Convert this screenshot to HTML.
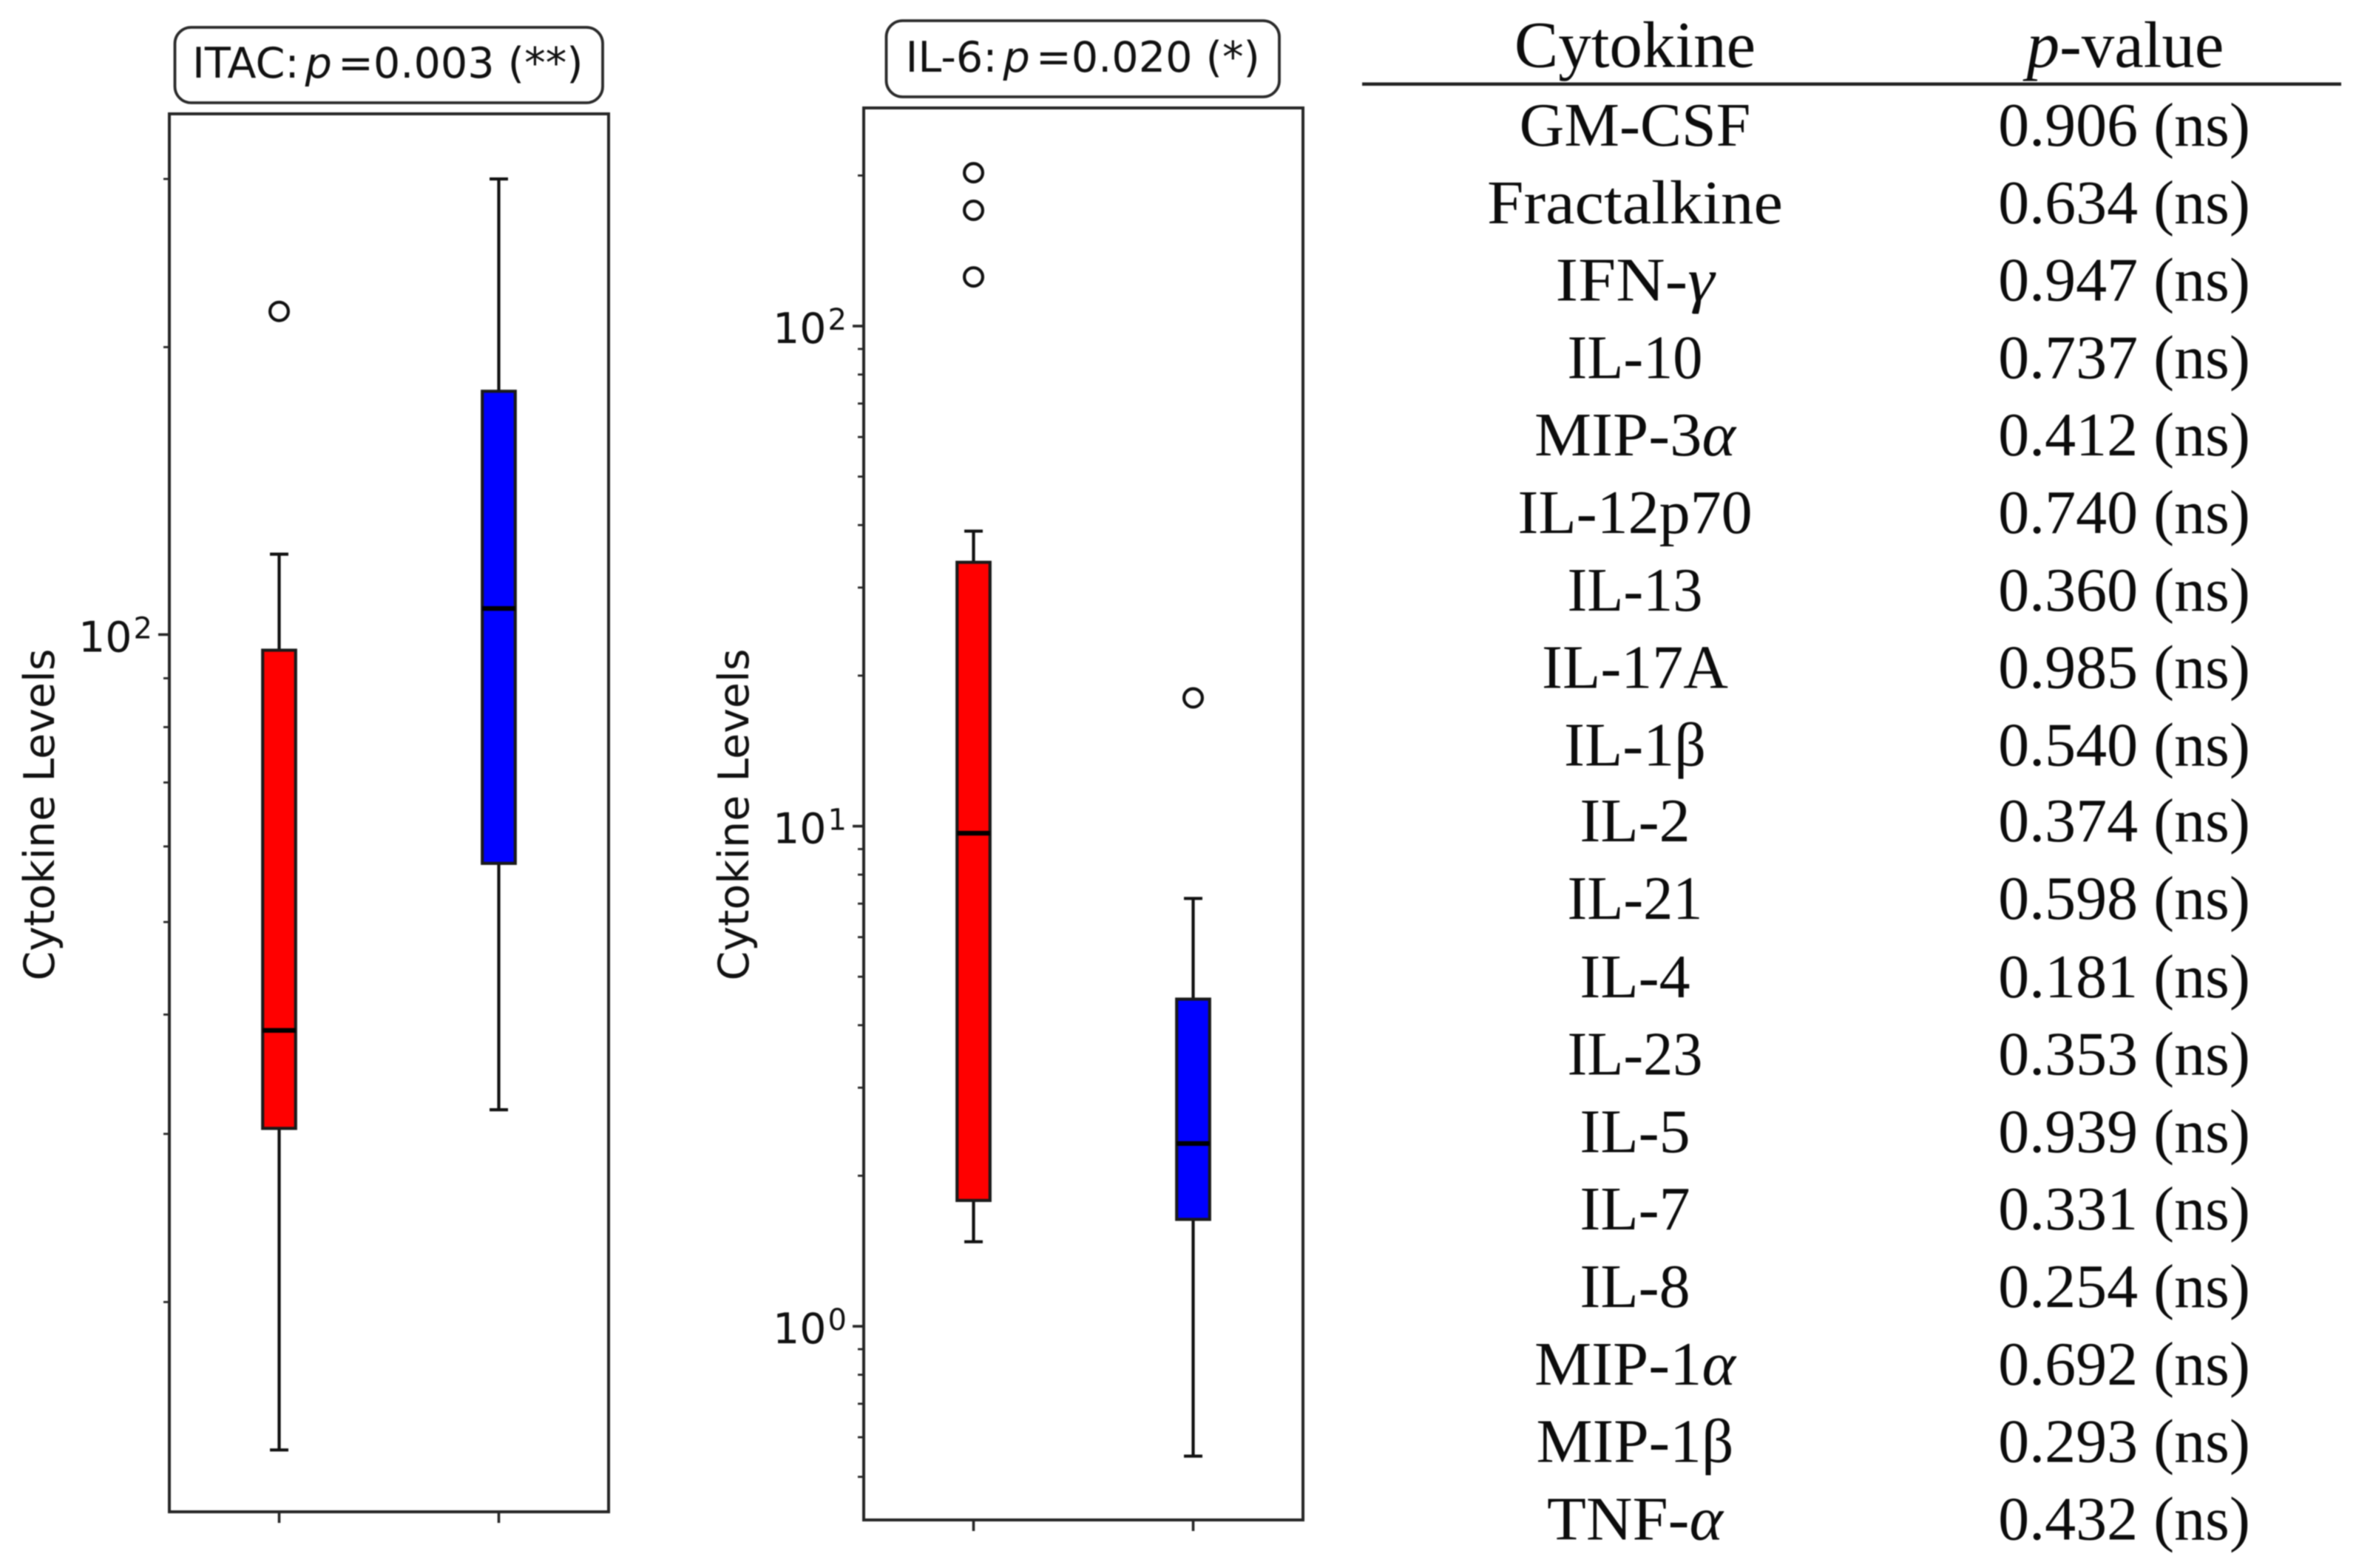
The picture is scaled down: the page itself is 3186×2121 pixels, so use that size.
<!DOCTYPE html>
<html lang="en">
<head>
<meta charset="utf-8">
<title>Cytokine levels and p-values</title>
<style>
html,body{margin:0;padding:0;background:#fff;}
svg{display:block;filter:blur(0.85px);}
.t-name,.t-val{font-family:"Liberation Serif",serif;font-size:84px;fill:#0c0c0c;text-anchor:middle;}
.t-head{font-family:"Liberation Serif",serif;font-size:89px;fill:#0c0c0c;text-anchor:middle;}
.i{font-style:italic;}
.sans{font-family:"DejaVu Sans",sans-serif;fill:#111;}
</style>
</head>
<body>
<svg id="figure" xmlns="http://www.w3.org/2000/svg" width="3186" height="2121" viewBox="0 0 3186 2121">
<rect x="0" y="0" width="3186" height="2121" fill="#fff"/>

<g id="chart-itac">
<rect x="236.5" y="37" width="578.5" height="102" rx="22" ry="22" fill="#fff" stroke="#2a2a2a" stroke-width="3.8"/>
<text class="sans" x="260" y="105" font-size="57.2">ITAC:<tspan dx="8" font-style="italic">p</tspan><tspan dx="8">=0.003 (**)</tspan></text>
<text class="sans" font-size="57" text-anchor="middle" transform="translate(73 1102) rotate(-90)">Cytokine Levels</text>
</g>

<g id="chart-il6">
<rect x="1198.5" y="28" width="531.5" height="103" rx="22" ry="22" fill="#fff" stroke="#2a2a2a" stroke-width="3.8"/>
<text class="sans" x="1224.5" y="97" font-size="57.2">IL-6:<tspan dx="8" font-style="italic">p</tspan><tspan dx="8">=0.020 (*)</tspan></text>
<text class="sans" font-size="57" text-anchor="middle" transform="translate(1012 1102) rotate(-90)">Cytokine Levels</text>
</g>

<g>
<text class="t-head" x="2211" y="90.5">Cytokine</text>
<text class="t-head" x="2874" y="90.5"><tspan class="i">p</tspan>-value</text>
<rect x="1842" y="111.5" width="1324" height="4.5" fill="#222"/>

<text class="t-name" x="2211" y="197">GM-CSF</text>
<text class="t-val" x="2872.5" y="197">0.906 (ns)</text>
<text class="t-name" x="2211" y="301.8" textLength="400" lengthAdjust="spacingAndGlyphs">Fractalkine</text>
<text class="t-val" x="2872.5" y="301.8">0.634 (ns)</text>
<text class="t-name" x="2211" y="406.6" textLength="215" lengthAdjust="spacingAndGlyphs">IFN-<tspan class="i">γ</tspan></text>
<text class="t-val" x="2872.5" y="406.6">0.947 (ns)</text>
<text class="t-name" x="2211" y="511.4" textLength="183" lengthAdjust="spacingAndGlyphs">IL-10</text>
<text class="t-val" x="2872.5" y="511.4">0.737 (ns)</text>
<text class="t-name" x="2211" y="616.2" textLength="272" lengthAdjust="spacingAndGlyphs">MIP-3<tspan class="i">α</tspan></text>
<text class="t-val" x="2872.5" y="616.2">0.412 (ns)</text>
<text class="t-name" x="2211" y="721">IL-12p70</text>
<text class="t-val" x="2872.5" y="721">0.740 (ns)</text>
<text class="t-name" x="2211" y="825.8" textLength="183" lengthAdjust="spacingAndGlyphs">IL-13</text>
<text class="t-val" x="2872.5" y="825.8">0.360 (ns)</text>
<text class="t-name" x="2211" y="930.6">IL-17A</text>
<text class="t-val" x="2872.5" y="930.6">0.985 (ns)</text>
<text class="t-name" x="2211" y="1035.4">IL-1β</text>
<text class="t-val" x="2872.5" y="1035.4">0.540 (ns)</text>
<text class="t-name" x="2211" y="1138.2">IL-2</text>
<text class="t-val" x="2872.5" y="1138.2">0.374 (ns)</text>
<text class="t-name" x="2211" y="1243" textLength="183" lengthAdjust="spacingAndGlyphs">IL-21</text>
<text class="t-val" x="2872.5" y="1243">0.598 (ns)</text>
<text class="t-name" x="2211" y="1348.8">IL-4</text>
<text class="t-val" x="2872.5" y="1348.8">0.181 (ns)</text>
<text class="t-name" x="2211" y="1453.6" textLength="183" lengthAdjust="spacingAndGlyphs">IL-23</text>
<text class="t-val" x="2872.5" y="1453.6">0.353 (ns)</text>
<text class="t-name" x="2211" y="1558.4">IL-5</text>
<text class="t-val" x="2872.5" y="1558.4">0.939 (ns)</text>
<text class="t-name" x="2211" y="1663.2">IL-7</text>
<text class="t-val" x="2872.5" y="1663.2">0.331 (ns)</text>
<text class="t-name" x="2211" y="1768">IL-8</text>
<text class="t-val" x="2872.5" y="1768">0.254 (ns)</text>
<text class="t-name" x="2211" y="1872.8" textLength="272" lengthAdjust="spacingAndGlyphs">MIP-1<tspan class="i">α</tspan></text>
<text class="t-val" x="2872.5" y="1872.8">0.692 (ns)</text>
<text class="t-name" x="2211" y="1977.6" textLength="267" lengthAdjust="spacingAndGlyphs">MIP-1β</text>
<text class="t-val" x="2872.5" y="1977.6">0.293 (ns)</text>
<text class="t-name" x="2211" y="2082.4" textLength="238" lengthAdjust="spacingAndGlyphs">TNF-<tspan class="i">α</tspan></text>
<text class="t-val" x="2872.5" y="2082.4">0.432 (ns)</text>
</g>
</svg>

<script>
// ---- Chart data ----
// Each stats array is [low whisker, Q1, median, Q3, high whisker]
const groupPositions = [1, 2];
const groupColors = ['#ff0000', '#0000ff'];

const itacYLimits = [12.06, 351];
const itacMajorTicks = [100];
const itacMajorExponents = ['2'];
const itacMinorTicks = [20, 30, 40, 50, 60, 70, 80, 90, 200, 300];
const itacStatsRed = [14.0, 30.4, 38.5, 96.3, 121.4];
const itacStatsBlue = [31.8, 57.6, 106.5, 179.8, 300];
const itacOutliersRed = [218];
const itacOutliersBlue = [];

const il6YLimits = [0.41, 273];
const il6MajorTicks = [1, 10, 100];
const il6MajorExponents = ['0', '1', '2'];
const il6MinorTicks = [0.5, 0.6, 0.7, 0.8, 0.9, 2, 3, 4, 5, 6, 7, 8, 9, 20, 30, 40, 50, 60, 70, 80, 90, 200];
const il6StatsRed = [1.476, 1.785, 9.68, 33.7, 38.9];
const il6StatsBlue = [0.55, 1.636, 2.32, 4.51, 7.17];
const il6OutliersRed = [125.4, 170.4, 202.6];
const il6OutliersBlue = [18.05];

// ---- Drawing ----
const SVGNS = 'http://www.w3.org/2000/svg';
const INK = '#111';

function make(tag, parent, attrs) {
  const el = document.createElementNS(SVGNS, tag);
  for (const k in attrs) el.setAttribute(k, attrs[k]);
  parent.appendChild(el);
  return el;
}

function drawFrame(parent, a) {
  const el = make('rect', parent, {x: a.left, y: a.top, width: a.right - a.left, height: a.bottom - a.top, fill: 'none', stroke: '#262626', 'stroke-width': 4});
  
  
}

function drawMinorTick(parent, a, yScale, v) {
  const el = make('line', parent, {x1: a.left - 8, x2: a.left, y1: yScale(v), y2: yScale(v), stroke: '#262626', 'stroke-width': 2.8});
  
  
}

function drawMajorTick(parent, a, yScale, v, exponent) {
  const y = yScale(v);
  const tick = make('line', parent, {x1: a.left - 15, x2: a.left, y1: y, y2: y, stroke: '#262626', 'stroke-width': 3.6});
  
  
  const label = make('text', parent, {x: a.left - 123, y: y + 23, 'font-size': 57, class: 'sans'});
  
  
  label.appendChild(document.createTextNode('10'));
  const sup = make('tspan', label, {dx: 2, dy: -18, 'font-size': 40});
  
  
  sup.textContent = exponent;
}

function drawXTick(parent, a, xScale, pos) {
  const el = make('line', parent, {x1: xScale(pos), x2: xScale(pos), y1: a.bottom, y2: a.bottom + 15, stroke: '#262626', 'stroke-width': 3.6});
  
  
}

function drawWhisker(parent, x, yFrom, yTo) {
  const el = make('line', parent, {x1: x, x2: x, y1: yFrom, y2: yTo, stroke: INK, 'stroke-width': 4.2});
  
  
}

function drawCap(parent, x, halfWidth, y) {
  const el = make('line', parent, {x1: x - halfWidth, x2: x + halfWidth, y1: y, y2: y, stroke: INK, 'stroke-width': 4.2});
  
  
}

function drawBox(parent, x, halfWidth, yTop, yBottom, color) {
  const el = make('rect', parent, {x: x - halfWidth, y: yTop, width: halfWidth * 2, height: yBottom - yTop, fill: color, stroke: '#1a1a1a', 'stroke-width': 4.2});
  
  
}

function drawMedian(parent, x, halfWidth, y) {
  const el = make('line', parent, {x1: x - halfWidth, x2: x + halfWidth, y1: y, y2: y, stroke: '#000', 'stroke-width': 6.4});
  
  
}

function drawOutlier(parent, x, y) {
  const el = make('circle', parent, {cx: x, cy: y, r: 12.4, fill: 'none', stroke: INK, 'stroke-width': 4.2});
  
  
}

function drawChart(parentId, area, yLimits, majorTicks, exponents, minorTicks, statsList, outliersList) {
  const parent = document.getElementById(parentId);
  const logMin = Math.log10(yLimits[0]);
  const logMax = Math.log10(yLimits[1]);
  const yScale = v => area.bottom - (Math.log10(v) - logMin) / (logMax - logMin) * (area.bottom - area.top);
  const xScale = p => area.left + (p - 0.5) / 2 * (area.right - area.left);
  const boxHalf = 0.075 * (area.right - area.left) / 2;
  const capHalf = boxHalf * 0.56;

  drawFrame(parent, area);
  minorTicks.forEach(v => drawMinorTick(parent, area, yScale, v));
  majorTicks.forEach((v, i) => drawMajorTick(parent, area, yScale, v, exponents[i]));
  groupPositions.forEach(p => drawXTick(parent, area, xScale, p));

  statsList.forEach((s, i) => {
    const x = xScale(groupPositions[i]);
    drawWhisker(parent, x, yScale(s[1]), yScale(s[0]));
    drawWhisker(parent, x, yScale(s[3]), yScale(s[4]));
    drawCap(parent, x, capHalf, yScale(s[0]));
    drawCap(parent, x, capHalf, yScale(s[4]));
    drawBox(parent, x, boxHalf, yScale(s[3]), yScale(s[1]), groupColors[i]);
    drawMedian(parent, x, boxHalf, yScale(s[2]));
    outliersList[i].forEach(v => drawOutlier(parent, x, yScale(v)));
  });
}

drawChart('chart-itac', {left: 229, right: 823, top: 154, bottom: 2045},
  itacYLimits, itacMajorTicks, itacMajorExponents, itacMinorTicks,
  [itacStatsRed, itacStatsBlue], [itacOutliersRed, itacOutliersBlue]);

drawChart('chart-il6', {left: 1168, right: 1762, top: 146, bottom: 2056},
  il6YLimits, il6MajorTicks, il6MajorExponents, il6MinorTicks,
  [il6StatsRed, il6StatsBlue], [il6OutliersRed, il6OutliersBlue]);
</script>
</body>
</html>
